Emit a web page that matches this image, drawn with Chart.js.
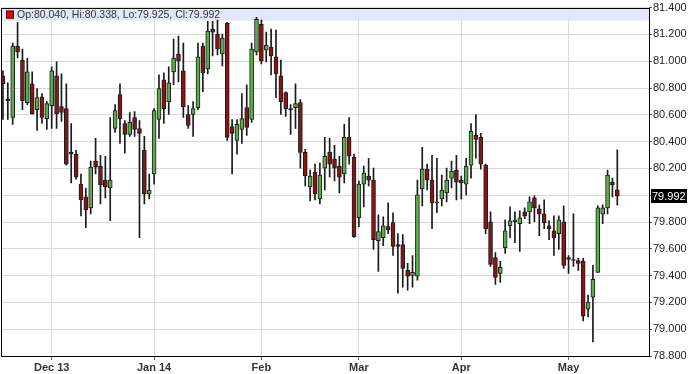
<!DOCTYPE html>
<html>
<head>
<meta charset="utf-8">
<script src="https://cdn.jsdelivr.net/npm/chart.js@4.4.1/dist/chart.umd.min.js"></script>
<style>
  html, body { margin: 0; padding: 0; background: #fff; }
  #wrap { width: 688px; height: 374px; }
</style>
</head>
<body>
<div id="wrap"><canvas id="chart" width="688" height="374"></canvas></div>
<script>
// daily candles, Dec 2013 - mid May 2014
const opens = [
  80.891, 80.720, 80.580, 81.113, 81.009, 80.691, 80.832, 80.639, 80.735, 80.572,
  80.669, 80.891, 80.661, 80.646, 80.320, 80.306, 80.083, 79.987, 79.906, 80.254,
  80.217, 80.113, 80.054, 80.498, 80.750, 80.535, 80.454, 80.580, 80.498, 80.335,
  80.009, 80.158, 80.565, 80.861, 80.698, 80.920, 81.054, 80.928, 80.602, 80.602,
  80.654, 81.113, 80.943, 81.239, 81.202, 81.054, 81.283, 80.513, 80.409, 80.491,
  80.654, 80.565, 81.069, 81.276, 81.083, 81.106, 81.032, 80.891, 80.765, 80.646,
  80.654, 80.691, 80.320, 80.061, 80.172, 79.972, 80.202, 80.320, 80.269, 80.217,
  80.158, 80.432, 80.283, 79.832, 80.083, 80.143, 80.113, 79.661, 79.683, 79.765,
  79.795, 79.632, 79.632, 79.439, 79.402, 79.395, 80.046, 80.195, 80.113, 79.950,
  79.972, 80.017, 80.128, 80.187, 80.113, 80.083, 80.224, 80.446, 80.432, 80.224,
  79.802, 79.535, 79.417, 79.609, 79.772, 79.802, 79.787, 79.876, 79.876, 79.980,
  79.898, 79.861, 79.772, 79.735, 79.713, 79.802, 79.535, 79.520, 79.513, 79.506,
  79.150, 79.239, 79.424, 79.861, 79.906, 80.098, 80.040
];
const highs = [
  80.928, 80.839, 81.135, 81.291, 81.091, 81.024, 80.920, 80.795, 80.758, 80.698,
  80.958, 80.995, 80.906, 80.832, 80.535, 80.335, 80.158, 80.054, 80.254, 80.424,
  80.298, 80.291, 80.580, 80.676, 80.832, 80.557, 80.617, 80.624, 80.557, 80.439,
  80.158, 80.646, 80.898, 80.913, 80.958, 81.165, 81.187, 81.135, 80.669, 80.698,
  81.135, 81.135, 81.298, 81.298, 81.306, 81.202, 81.291, 80.565, 80.565, 80.758,
  80.824, 81.135, 81.328, 81.306, 81.217, 81.239, 81.232, 81.009, 80.772, 80.676,
  80.832, 80.713, 80.343, 80.187, 80.232, 80.239, 80.432, 80.424, 80.372, 80.291,
  80.528, 80.580, 80.306, 80.106, 80.217, 80.276, 80.202, 79.854, 79.839, 79.943,
  79.869, 79.713, 79.706, 79.491, 79.550, 80.113, 80.358, 80.232, 80.298, 80.276,
  80.150, 80.202, 80.254, 80.298, 80.143, 80.276, 80.535, 80.602, 80.461, 80.232,
  79.876, 79.572, 79.506, 79.817, 79.913, 79.876, 79.883, 79.906, 79.987, 79.995,
  79.928, 79.965, 79.809, 79.846, 79.846, 79.920, 79.550, 79.861, 79.528, 79.528,
  79.254, 79.476, 79.920, 79.928, 80.187, 80.128, 80.338
];
const lows = [
  80.565, 80.565, 80.528, 81.024, 80.639, 80.676, 80.602, 80.483, 80.535, 80.491,
  80.498, 80.498, 80.550, 80.224, 80.091, 80.120, 79.846, 79.758, 79.861, 80.158,
  79.935, 79.980, 79.809, 80.469, 80.387, 80.313, 80.439, 80.439, 79.683, 79.935,
  79.972, 80.083, 80.424, 80.535, 80.602, 80.824, 80.846, 80.580, 80.498, 80.439,
  80.639, 80.772, 80.906, 81.039, 81.046, 80.965, 80.409, 80.158, 80.306, 80.387,
  80.446, 80.543, 81.046, 80.980, 80.995, 80.898, 80.728, 80.602, 80.587, 80.454,
  80.498, 80.202, 80.069, 79.958, 79.965, 79.935, 80.039, 80.135, 80.106, 80.017,
  80.091, 80.232, 79.684, 79.765, 79.913, 80.069, 79.595, 79.432, 79.624, 79.713,
  79.550, 79.269, 79.313, 79.291, 79.313, 79.365, 79.920, 80.039, 79.750, 79.869,
  79.920, 79.950, 80.054, 79.965, 79.972, 80.002, 80.128, 80.276, 80.195, 79.713,
  79.469, 79.335, 79.350, 79.565, 79.683, 79.646, 79.580, 79.824, 79.787, 79.802,
  79.698, 79.750, 79.669, 79.550, 79.595, 79.454, 79.417, 79.469, 79.439, 79.061,
  79.091, 78.906, 79.424, 79.787, 79.861, 79.987, 79.925
];
const closes = [
  80.832, 80.706, 81.113, 81.069, 80.706, 80.920, 80.609, 80.728, 80.580, 80.683,
  80.928, 80.609, 80.617, 80.232, 80.306, 80.135, 79.965, 79.891, 80.209, 80.209,
  80.076, 80.061, 80.113, 80.632, 80.572, 80.454, 80.543, 80.491, 80.461, 80.009,
  80.039, 80.632, 80.795, 80.646, 80.839, 81.024, 81.002, 80.661, 80.521, 80.646,
  81.032, 80.913, 81.224, 81.217, 81.091, 81.172, 80.432, 80.461, 80.528, 80.572,
  80.506, 81.091, 81.313, 81.002, 81.120, 81.039, 80.906, 80.698, 80.646, 80.639,
  80.683, 80.320, 80.143, 80.143, 80.009, 80.150, 80.291, 80.232, 80.202, 80.135,
  80.432, 80.291, 79.691, 80.083, 80.165, 80.113, 79.669, 79.728, 79.772, 79.743,
  79.617, 79.617, 79.454, 79.395, 79.424, 80.002, 80.195, 80.113, 79.943, 79.943,
  80.039, 80.113, 80.180, 80.098, 80.091, 80.217, 80.476, 80.417, 80.232, 79.750,
  79.483, 79.387, 79.461, 79.735, 79.809, 79.817, 79.832, 79.846, 79.950, 79.906,
  79.861, 79.795, 79.750, 79.683, 79.817, 79.476, 79.520, 79.513, 79.491, 79.098,
  79.202, 79.372, 79.906, 79.906, 80.150, 80.076, 79.992
];
// first trading day of each month (candle index) and its label
const monthIdx = [10, 31, 53, 73, 94, 116];
const monthLabels = ["Dec 13", "Jan 14", "Feb", "Mar", "Apr", "May"];

const upColor = "rgb(92,172,76)";
const downColor = "rgb(132,22,22)";

const n = closes.length;
const wicks = [];
const bodies = [];
const bodyColors = [];
for (let i = 0; i < n; i++) {
  wicks.push({ x: i, y: [lows[i], highs[i]] });
  bodies.push({ x: i, y: [Math.min(opens[i], closes[i]), Math.max(opens[i], closes[i])] });
  bodyColors.push(closes[i] >= opens[i] ? upColor : downColor);
}

const last = n - 1;
const headerText = "Op:" + opens[last].toFixed(3) + ", Hi:" + highs[last].toFixed(3) +
  ", Lo:" + lows[last].toFixed(3) + ", Cl:" + closes[last].toFixed(3);

const frame = {
  id: "frame",
  beforeDatasetsDraw(chart) {
    const { ctx, chartArea } = chart;
    ctx.save();
    ctx.fillStyle = "rgba(225,228,252,0.9)";
    ctx.fillRect(chartArea.left, chartArea.top, chartArea.right - chartArea.left, 13);
    ctx.fillStyle = "#d01010";
    ctx.fillRect(chartArea.left + 5, chartArea.top + 3, 8, 8);
    ctx.strokeStyle = "#600";
    ctx.lineWidth = 1;
    ctx.strokeRect(chartArea.left + 5.5, chartArea.top + 3.5, 7, 7);
    ctx.fillStyle = "#333";
    ctx.font = "10.5px 'Liberation Sans', Arial, sans-serif";
    ctx.textBaseline = "middle";
    ctx.fillText(headerText, chartArea.left + 16, chartArea.top + 7.5);
    ctx.restore();
  },
  afterDraw(chart) {
    const { ctx, chartArea } = chart;
    const y = chart.scales.y.getPixelForValue(closes[last]);
    ctx.save();
    ctx.strokeStyle = "#000";
    ctx.lineWidth = 1;
    ctx.strokeRect(Math.round(chartArea.left) + 0.5, Math.round(chartArea.top) + 0.5,
      Math.round(chartArea.right - chartArea.left), Math.round(chartArea.bottom - chartArea.top));
    ctx.fillStyle = "#000";
    ctx.fillRect(chartArea.right + 2, Math.round(y) - 7, 36, 14);
    ctx.fillStyle = "#fff";
    ctx.font = "11px 'Liberation Sans', Arial, sans-serif";
    ctx.textBaseline = "middle";
    ctx.fillText(closes[last].toFixed(3), chartArea.right + 3, y + 0.5);
    ctx.restore();
  }
};

new Chart(document.getElementById("chart"), {
  type: "bar",
  data: {
    datasets: [
      {
        data: bodies,
        backgroundColor: bodyColors,
        borderColor: "#1c1c1c",
        borderWidth: 1,
        borderSkipped: false,
        barThickness: 4,
        grouped: false,
      },
      {
        data: wicks,
        backgroundColor: "#1a1a1a",
        borderWidth: 0,
        barThickness: 1,
        grouped: false,
      },
    ],
  },
  options: {
    responsive: false,
    animation: false,
    layout: { padding: { top: 5, left: 1, right: 0, bottom: 0 } },
    plugins: { legend: { display: false }, tooltip: { enabled: false } },
    scales: {
      x: {
        type: "linear",
        min: -0.4,
        max: 132.5,
        offset: false,
        afterBuildTicks: (axis) => {
          axis.ticks = monthIdx.map((v) => ({ value: v }));
        },
        afterFit: (axis) => {
          axis.height = 18;
        },
        ticks: {
          autoSkip: false,
          maxRotation: 0,
          padding: 1,
          color: "#333",
          font: { family: "'Liberation Sans', Arial, sans-serif", size: 11, weight: "bold" },
          callback: (value) => monthLabels[monthIdx.indexOf(value)],
        },
        grid: { offset: false, color: "#d9d9d9", tickColor: "#666", tickLength: 4 },
        border: { display: false },
      },
      y: {
        position: "right",
        min: 78.8,
        max: 81.4,
        afterFit: (axis) => {
          axis.width = 39;
        },
        ticks: {
          stepSize: 0.2,
          padding: 1,
          color: "#222",
          font: { family: "'Liberation Sans', Arial, sans-serif", size: 11 },
          callback: (value) => value.toFixed(3),
        },
        grid: { color: "#d9d9d9", tickColor: "#555", tickLength: 3 },
        border: { display: false },
      },
    },
  },
  plugins: [frame],
});
</script>
</body>
</html>
